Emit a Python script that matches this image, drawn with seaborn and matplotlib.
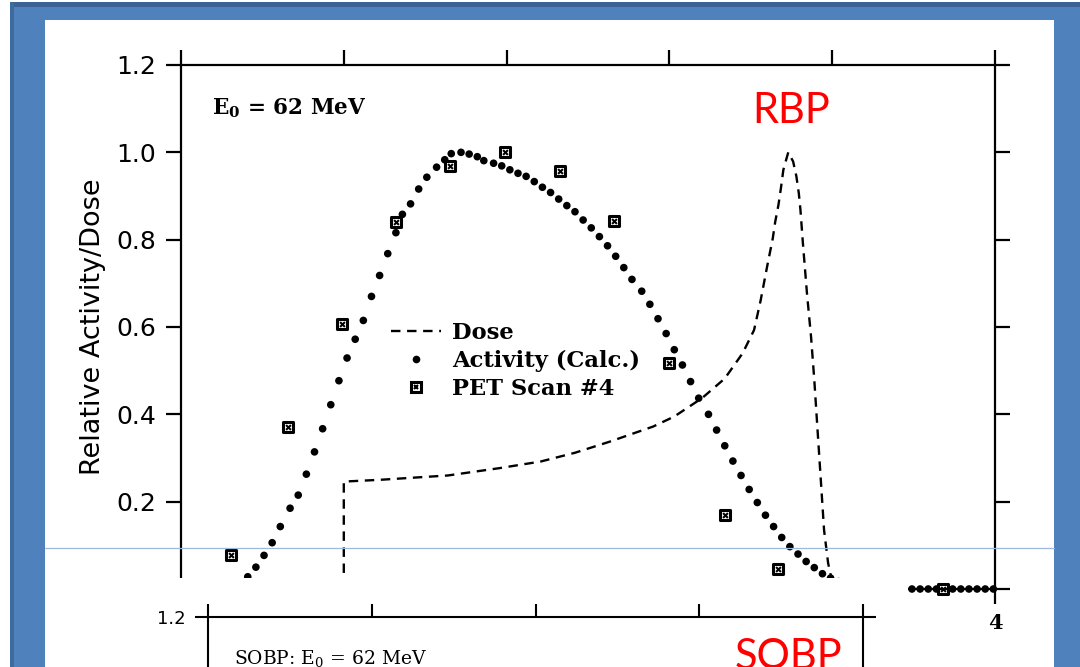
import numpy as np
import matplotlib
matplotlib.use("Agg")
import matplotlib.pyplot as plt
import seaborn as sns
from matplotlib.patches import Rectangle
from matplotlib.lines import Line2D
from matplotlib.legend_handler import HandlerTuple

# ---- data (depth in cm, relative units) ----
activity_x = [-0.64, -0.59, -0.54, -0.49, -0.44, -0.39, -0.33, -0.28, -0.23, -0.18,
              -0.13, -0.08, -0.03, 0.02, 0.07, 0.12, 0.17, 0.22, 0.27, 0.32,
              0.36, 0.41, 0.46, 0.51, 0.57, 0.62, 0.66, 0.72, 0.77, 0.82,
              0.86, 0.92, 0.97, 1.02, 1.07, 1.12, 1.17, 1.22, 1.27, 1.32,
              1.37, 1.42, 1.47, 1.52, 1.57, 1.62, 1.67, 1.72, 1.77, 1.83,
              1.88, 1.93, 1.98, 2.03, 2.08, 2.13, 2.18, 2.24, 2.29, 2.34,
              2.39, 2.44, 2.49, 2.54, 2.59, 2.64, 2.69, 2.74, 2.79, 2.84,
              2.89, 2.94, 2.99, 3.04, 3.09, 3.14, 3.19, 3.24, 3.29, 3.34,
              3.39, 3.44, 3.49, 3.54, 3.59, 3.64, 3.69, 3.74, 3.79, 3.84,
              3.89, 3.94, 3.99]
activity_y = [0.012, 0.028, 0.050, 0.077, 0.106, 0.143, 0.185, 0.215, 0.263, 0.314,
              0.367, 0.422, 0.477, 0.529, 0.572, 0.615, 0.670, 0.718, 0.768, 0.816,
              0.858, 0.882, 0.916, 0.943, 0.966, 0.983, 0.997, 1.000, 0.996, 0.990,
              0.981, 0.975, 0.969, 0.960, 0.952, 0.945, 0.933, 0.920, 0.908, 0.893,
              0.878, 0.864, 0.845, 0.827, 0.807, 0.786, 0.762, 0.736, 0.709, 0.682,
              0.652, 0.619, 0.585, 0.548, 0.513, 0.475, 0.437, 0.400, 0.364, 0.328,
              0.293, 0.260, 0.228, 0.198, 0.169, 0.143, 0.118, 0.097, 0.080, 0.063,
              0.049, 0.035, 0.025, 0.017, 0.011, 0.007, 0.004, 0.002, 0.001, 0.0,
              0.0, 0.0, 0.0, 0.0, 0.0, 0.0, 0.0, 0.0, 0.0, 0.0,
              0.0, 0.0, 0.0]

pet_x = [-0.69, -0.34, -0.01, 0.32, 0.65, 0.99, 1.33, 1.66, 2.00, 2.34, 2.67, 3.68]
pet_y = [0.078, 0.371, 0.607, 0.841, 0.969, 1.001, 0.958, 0.843, 0.518, 0.170, 0.046, 0.0]

dose_x = [0.0, 0.0, 0.22, 0.64, 0.96, 1.21, 1.42, 1.63, 1.90, 2.03, 2.20, 2.34, 2.45,
          2.52, 2.56, 2.60, 2.635, 2.65, 2.67, 2.685, 2.70, 2.73, 2.76, 2.78, 2.795,
          2.805, 2.82, 2.845, 2.87, 2.89, 2.91, 2.93, 2.95, 2.975, 2.995, 3.02, 3.06]
dose_y = [0.0, 0.246, 0.250, 0.260, 0.277, 0.292, 0.312, 0.337, 0.372, 0.395, 0.437,
          0.482, 0.540, 0.593, 0.660, 0.738, 0.803, 0.841, 0.880, 0.918, 0.960, 1.0,
          0.979, 0.945, 0.906, 0.868, 0.792, 0.677, 0.578, 0.479, 0.364, 0.250, 0.135,
          0.059, 0.025, 0.0, 0.0]

x_ticks = [-1, 0, 1, 2, 3, 4]
x_ticklabels = ["", "", "", "", "", "4"]
y_ticks = [0.0, 0.2, 0.4, 0.6, 0.8, 1.0, 1.2]
y_ticklabels = ["", "0.2", "0.4", "0.6", "0.8", "1.0", "1.2"]
sobp_x_ticks = [0, 1, 2, 3, 4]
legend_labels = ["Dose", "Activity (Calc.)", "PET Scan #4"]

W, H = 1080, 667

def fx(px):
    return px / W

def fy(py):
    return 1 - py / H

sns.set_style("ticks")
plt.rcParams["font.family"] = ["DejaVu Sans"]
plt.rcParams["mathtext.fontset"] = "dejavuserif"
for k in ["text.color", "axes.labelcolor", "xtick.color", "ytick.color", "axes.edgecolor"]:
    plt.rcParams[k] = "black"

fig = plt.figure(figsize=(10.8, 6.67), dpi=100, facecolor="white")

# slide frame
fig.add_artist(Rectangle((fx(10), fy(667)), 1070 / W, 665 / H, transform=fig.transFigure,
                         facecolor="#4F81BD", edgecolor="none", zorder=-10))
fig.add_artist(Rectangle((fx(10), fy(7)), 1070 / W, 5 / H, transform=fig.transFigure,
                         facecolor="#3A6294", edgecolor="none", zorder=-9))
fig.add_artist(Rectangle((fx(10), fy(667)), 4 / W, 665 / H, transform=fig.transFigure,
                         facecolor="#3E6AA0", edgecolor="none", zorder=-9))
fig.add_artist(Rectangle((fx(45), fy(667)), 1009 / W, 647 / H, transform=fig.transFigure,
                         facecolor="white", edgecolor="none", zorder=-8))

# ---- main (RBP) plot ----
ax = fig.add_axes([fx(181), fy(589), 814 / W, 524 / H], facecolor="white")

sns.lineplot(x=dose_x, y=dose_y, sort=False, estimator=None, color="black",
             lw=1.7, dashes=False, ax=ax)
ax.lines[-1].set_dashes((4, 2.8))
sns.scatterplot(x=activity_x, y=activity_y, color="black", s=30, edgecolor="none", ax=ax)
sns.scatterplot(x=pet_x, y=pet_y, marker="s", s=60, facecolor="white",
                edgecolor="black", linewidth=2.2, ax=ax)
sns.scatterplot(x=pet_x, y=pet_y, marker="x", s=12, color="black", linewidth=1.5, ax=ax)
for c in ax.collections:
    c.set_clip_on(False)

ax.set_xlim(-1, 4)
ax.set_ylim(0, 1.2)
ax.set_xticks(x_ticks)
ax.set_xticklabels(x_ticklabels, fontfamily="DejaVu Serif", fontweight="bold", fontsize=15)
ax.set_yticks(y_ticks)
ax.set_yticklabels(y_ticklabels, fontsize=18)
ax.tick_params(direction="out", length=11, width=1.6, top=True, right=True, pad=7)
ax.tick_params(axis="x", pad=6)
for s in ax.spines.values():
    s.set_linewidth(1.6)
    s.set_visible(True)
ax.set_xlabel("")
ax.set_ylabel("Relative Activity/Dose", fontsize=19.5, labelpad=7)

ax.text(0.038, 0.905, r"E$_\mathbf{0}$ = 62 MeV", transform=ax.transAxes,
        fontfamily="DejaVu Serif", fontweight="bold", fontsize=15.5, va="baseline")

h_dose = Line2D([], [], color="black", lw=1.7, dashes=(4, 2.8))
h_act = Line2D([], [], ls="none", marker="o", ms=5.5, color="black", mec="none")
h_pet = (Line2D([], [], ls="none", marker="s", ms=7.6, mfc="white", mec="black", mew=2.2),
         Line2D([], [], ls="none", marker="x", ms=3.4, color="black", mew=1.5))
ax.legend([h_dose, h_act, h_pet], legend_labels,
          handler_map={tuple: HandlerTuple(ndivide=1, pad=0)},
          loc="upper left", bbox_to_anchor=(0.258, 0.51), frameon=False,
          borderpad=0, borderaxespad=0, handlelength=2.2, handletextpad=0.5,
          labelspacing=0.26, prop={"family": "DejaVu Serif", "weight": "bold", "size": 16.3})

fig.text(fx(752), fy(123), "RBP", color="red", fontsize=30, fontfamily="Lato",
         va="baseline", ha="left")

# ---- second slide image (SOBP) overlapping the bottom ----
fig.add_artist(Rectangle((fx(45), 0), (908 - 45) / W, (667 - 578) / H,
                         transform=fig.transFigure, facecolor="white",
                         edgecolor="none", zorder=5))

ax2 = fig.add_axes([fx(207.6), fy(616.5 + 524), (863.4 - 207.6) / W, 524 / H],
                   facecolor="none", zorder=6)
ax2.set_xlim(0, 4)
ax2.set_ylim(0, 1.2)
ax2.set_xticks(sobp_x_ticks)
ax2.set_xticklabels([])
ax2.set_yticks([1.2])
ax2.set_yticklabels(["1.2"], fontsize=13)
ax2.tick_params(direction="out", length=9.5, width=1.5, top=True, right=True, pad=6)
for s in ax2.spines.values():
    s.set_linewidth(1.5)
    s.set_visible(True)
ax2.text(0.04, 1 - (664 - 616.5) / 524, r"SOBP: E$_0$ = 62 MeV", transform=ax2.transAxes,
         fontfamily="DejaVu Serif", fontsize=13.5, va="baseline")

fig.text(fx(735), fy(669), "SOBP", color="red", fontsize=30, fontfamily="Lato",
         va="baseline", ha="left", zorder=7)

# thin guide line on the slide
fig.add_artist(Line2D([fx(45), fx(1054)], [fy(548), fy(548)], transform=fig.transFigure,
                      color="#9DB9DC", lw=0.9, zorder=10))

fig.savefig("out.png", dpi=100, facecolor="white")
